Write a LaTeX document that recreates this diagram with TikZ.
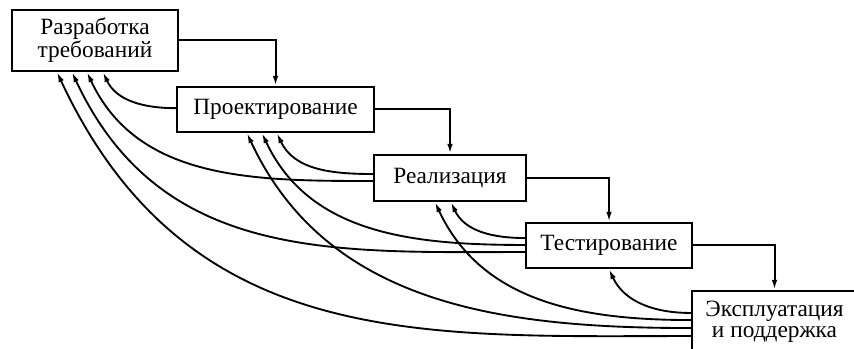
\documentclass[tikz,border=0pt]{standalone}
\usepackage{fontspec}
\setmainfont{Liberation Serif}
\usetikzlibrary{arrows.meta}
\tikzset{
  stage/.style={draw, line width=1.8pt, inner sep=0pt, align=center,
    font=\fontsize{17.5}{15.5}\selectfont},
  fwd/.style={-{Latex[length=7.5pt,width=4.2pt]}, line width=1.5pt},
  back/.style={-{Latex[length=7.5pt,width=4.2pt]}, line width=1.4pt},
}
\begin{document}
\begin{tikzpicture}[x=0.75pt,y=-0.75pt]
    \path[use as bounding box, clip] (0,0) rectangle (854,349);
    \node[stage, minimum width=124.5pt, minimum height=45.75pt] (req) at (95,40.5) {Разработка\\требований};
    \node[stage, minimum width=147.75pt, minimum height=33.75pt] (des) at (275.5,109.5) {Проектирование};
    \node[stage, minimum width=114pt, minimum height=34.5pt] (impl) at (450,178) {Реализация};
    \node[stage, minimum width=124.5pt, minimum height=33.75pt] (test) at (609,245.5) {Тестирование};
    \node[stage, minimum width=123.75pt, minimum height=45.75pt] (ops) at (774.5,321.5) {Эксплуатация\\и поддержка};
    \draw[fwd] (req.east) -| (des.north);
    \draw[fwd] (des.east) -| (impl.north);
    \draw[fwd] (impl.east) -| (test.north);
    \draw[fwd] (test.east) -| (ops.north);
    \draw[back] ([yshift=1pt]des.west) to[out=180,in=-65] ([xshift=6pt]req.south);
    \draw[back] ([yshift=-2.25pt]impl.west) to[out=180,in=-65] ([xshift=-6pt]req.south);
    \draw[back] ([yshift=-4.9pt]test.west) to[out=180,in=-65,in looseness=1.1] ([xshift=-17.25pt]req.south);
    \draw[back] ([yshift=-10.9pt]ops.west) to[out=180,in=-65,in looseness=1.15] ([xshift=-28.5pt]req.south);
    \draw[back] ([yshift=3pt]impl.west) to[out=180,in=-65] ([xshift=1.1pt]des.south);
    \draw[back] ([yshift=0.4pt]test.west) to[out=180,in=-65] ([xshift=-10.1pt]des.south);
    \draw[back] ([yshift=-4.9pt]ops.west) to[out=180,in=-65] ([xshift=-21.4pt]des.south);
    \draw[back] ([yshift=5.6pt]test.west) to[out=180,in=-65] ([xshift=0.75pt]impl.south);
    \draw[back] ([yshift=1.1pt]ops.west) to[out=180,in=-65] ([xshift=-11.25pt]impl.south);
    \draw[back] ([yshift=6.4pt]ops.west) to[out=180,in=-65] (test.south);
\end{tikzpicture}
\end{document}
